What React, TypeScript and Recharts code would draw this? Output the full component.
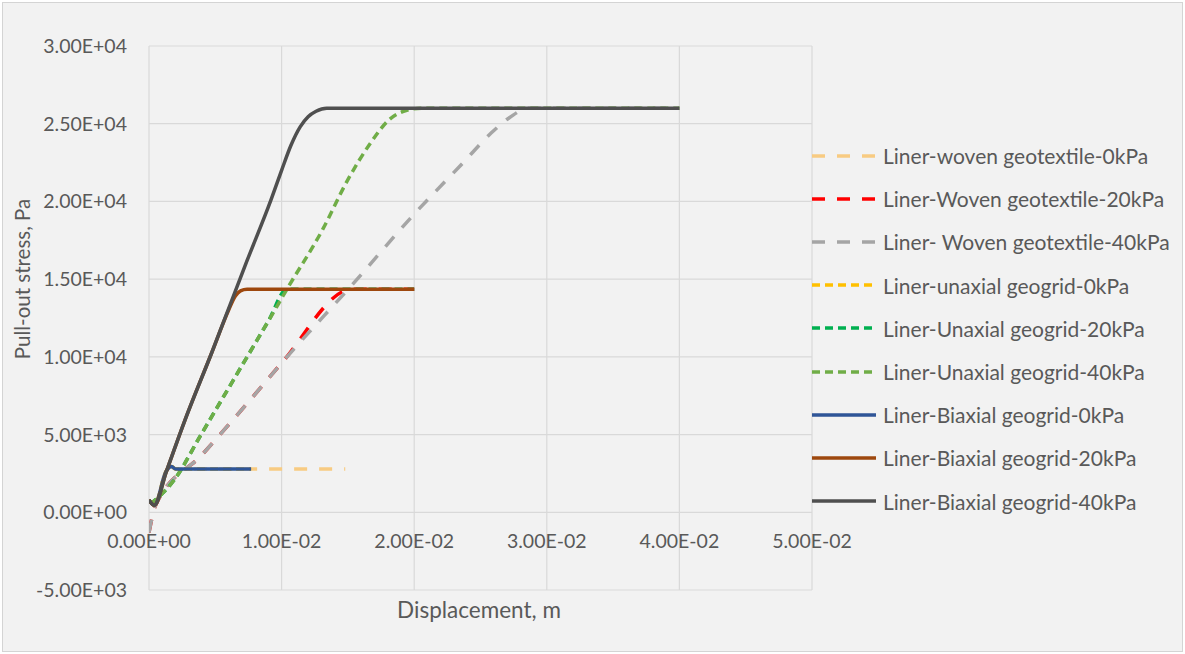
import React from 'react';
import { LineChart, Line, XAxis, YAxis, CartesianGrid, Legend, Label } from 'recharts';

// ---- axis ticks ----
const xTicks = [0, 0.01, 0.02, 0.03, 0.04, 0.05];
const xTickLabels = ['0.00E+00', '1.00E-02', '2.00E-02', '3.00E-02', '4.00E-02', '5.00E-02'];
const yTicks = [-5000, 0, 5000, 10000, 15000, 20000, 25000, 30000];
const yTickLabels = ['-5.00E+03', '0.00E+00', '5.00E+03', '1.00E+04', '1.50E+04', '2.00E+04', '2.50E+04', '3.00E+04'];

// ---- series names ----
const seriesNames = [
  'Liner-woven geotextile-0kPa',
  'Liner-Woven geotextile-20kPa',
  'Liner- Woven geotextile-40kPa',
  'Liner-unaxial geogrid-0kPa',
  'Liner-Unaxial geogrid-20kPa',
  'Liner-Unaxial geogrid-40kPa',
  'Liner-Biaxial geogrid-0kPa',
  'Liner-Biaxial geogrid-20kPa',
  'Liner-Biaxial geogrid-40kPa',
];

// ---- series values (displacement m, stress Pa) ----
const woven0X = [0, 0.0004, 0.0013, 0.0017, 0.002, 0.0148];
const woven0Y = [800, 450, 2650, 2950, 2780, 2780];

const woven20X = [0, 0.0005, 0.004, 0.0075, 0.01, 0.0153, 0.02];
const woven20Y = [-1300, 450, 3700, 7100, 9600, 14350, 14350];

const woven40X = [0, 0.0005, 0.004, 0.0075, 0.01, 0.0157, 0.0198, 0.0237, 0.0258, 0.0272, 0.0286, 0.04];
const woven40Y = [-1300, 450, 3700, 7100, 9600, 15000, 19000, 22500, 24400, 25400, 26000, 26000];

const unaxial0X = [0, 0.0004, 0.0013, 0.0017, 0.002, 0.0077];
const unaxial0Y = [800, 450, 2650, 2950, 2780, 2780];

const unaxial20X = [0.0001, 0.0019, 0.0039, 0.0074, 0.009, 0.0104, 0.011, 0.02];
const unaxial20Y = [520, 2080, 4960, 10000, 12300, 14350, 14350, 14350];

const unaxial40X = [0.0001, 0.0019, 0.0039, 0.0074, 0.009, 0.0104, 0.0131, 0.015, 0.0167, 0.0181, 0.0192, 0.0206, 0.04];
const unaxial40Y = [520, 2080, 4960, 10000, 12300, 14350, 18200, 21400, 23750, 25250, 25800, 26000, 26000];

const biaxial0X = [0, 0.0004, 0.0013, 0.0017, 0.002, 0.0077];
const biaxial0Y = [800, 450, 2650, 2950, 2780, 2780];

const biaxial20X = [0, 0.0004, 0.0013, 0.0027, 0.0047, 0.006, 0.0065, 0.0069, 0.0074, 0.02];
const biaxial20Y = [800, 450, 2600, 5900, 10200, 13000, 13900, 14250, 14350, 14350];

const biaxial40X = [0, 0.0004, 0.0013, 0.0027, 0.0047, 0.0074, 0.0092, 0.01, 0.0107, 0.0114, 0.012, 0.0126, 0.0134, 0.04];
const biaxial40Y = [800, 450, 2600, 5900, 10200, 16200, 20100, 22000, 23600, 24800, 25450, 25800, 26000, 26000];

const seriesX = [woven0X, woven20X, woven40X, unaxial0X, unaxial20X, unaxial40X, biaxial0X, biaxial20X, biaxial40X];
const seriesY = [woven0Y, woven20Y, woven40Y, unaxial0Y, unaxial20Y, unaxial40Y, biaxial0Y, biaxial20Y, biaxial40Y];

// ---- styles ----
const colors = ['#f8cb82', '#ff0000', '#a5a5a5', '#ffc000', '#00b050', '#70ad47', '#2f5597', '#9e480e', '#4f4f4f'];
const dashes = ['13 12', '13 12', '13 12', '8 5', '8 5', '8 5', undefined, undefined, undefined];

const FONT = 'Lato, "Open Sans", sans-serif';
const TEXT = '#595959';

const series = seriesNames.map((name, i) => ({
  name,
  color: colors[i],
  dash: dashes[i],
  data: seriesX[i].map((x, j) => ({ x, y: seriesY[i][j] })),
}));

const XTick = (props: any) => {
  const { x, y, payload } = props;
  const idx = xTicks.indexOf(payload.value);
  return (
    <text x={x} y={y - 42} textAnchor="middle" fill={TEXT} fontSize={19.5} fontFamily={FONT}>
      {idx >= 0 ? xTickLabels[idx] : ''}
    </text>
  );
};

const YTick = (props: any) => {
  const { x, y, payload } = props;
  const idx = yTicks.indexOf(payload.value);
  return (
    <text x={x} y={y} dy="0.36em" textAnchor="end" fill={TEXT} fontSize={19.5} fontFamily={FONT}>
      {idx >= 0 ? yTickLabels[idx] : ''}
    </text>
  );
};

const LegendContent = () => (
  <div style={{ fontFamily: FONT, fontSize: 21, color: TEXT }}>
    {series.map((s) => (
      <div key={s.name} style={{ height: 43.2, display: 'flex', alignItems: 'center', whiteSpace: 'nowrap' }}>
        <svg width={64} height={10} style={{ display: 'block', marginRight: 7, flexShrink: 0 }}>
          <line x1={0} y1={5} x2={64} y2={5} stroke={s.color} strokeWidth={3.5} strokeDasharray={s.dash} />
        </svg>
        <span>{s.name}</span>
      </div>
    ))}
  </div>
);

export default function App() {
  return (
    <div style={{ position: 'absolute', left: 0, top: 0, width: 1185, height: 654, background: '#ffffff' }}>
      <div
        style={{
          position: 'absolute',
          left: 2,
          top: 2,
          width: 1181,
          height: 650,
          boxSizing: 'border-box',
          border: '1px solid #d4d4d4',
          background: '#f2f2f2',
        }}
      />
      <div style={{ position: 'absolute', left: 0, top: 0 }}>
        <LineChart width={1185} height={654} margin={{ top: 46, right: 373, bottom: 24, left: 0 }}>
          <CartesianGrid stroke="#d9d9d9" strokeWidth={1.2} />
          <XAxis
            dataKey="x"
            type="number"
            domain={[0, 0.05]}
            ticks={xTicks}
            allowDataOverflow
            height={40}
            tickLine={false}
            axisLine={false}
            tickSize={0}
            tickMargin={0}
            tick={<XTick />}
            interval={0}
          >
            <Label
              content={() => (
                <text x={479} y={618} textAnchor="middle" fill={TEXT} fontSize={22.5} fontFamily={FONT}>
                  Displacement, m
                </text>
              )}
            />
          </XAxis>
          <YAxis
            type="number"
            domain={[-5000, 30000]}
            ticks={yTicks}
            allowDataOverflow
            width={149}
            tickLine={false}
            axisLine={false}
            tickSize={0}
            tickMargin={22}
            tick={<YTick />}
            interval={0}
          >
            <Label
              content={() => (
                <text
                  x={22}
                  y={279}
                  textAnchor="middle"
                  dominantBaseline="central"
                  transform="rotate(-90 22 279)"
                  fill={TEXT}
                  fontSize={20.5}
                  fontFamily={FONT}
                >
                  Pull-out stress, Pa
                </text>
              )}
            />
          </YAxis>
          <Legend
            layout="vertical"
            align="center"
            verticalAlign="middle"
            wrapperStyle={{ left: 812, top: 134, width: 372 }}
            content={<LegendContent />}
          />
          {series.map((s) => (
            <Line
              key={s.name}
              name={s.name}
              data={s.data}
              dataKey="y"
              type="monotone"
              stroke={s.color}
              strokeWidth={3.5}
              strokeDasharray={s.dash}
              dot={false}
              activeDot={false}
              isAnimationActive={false}
            />
          ))}
        </LineChart>
      </div>
    </div>
  );
}
